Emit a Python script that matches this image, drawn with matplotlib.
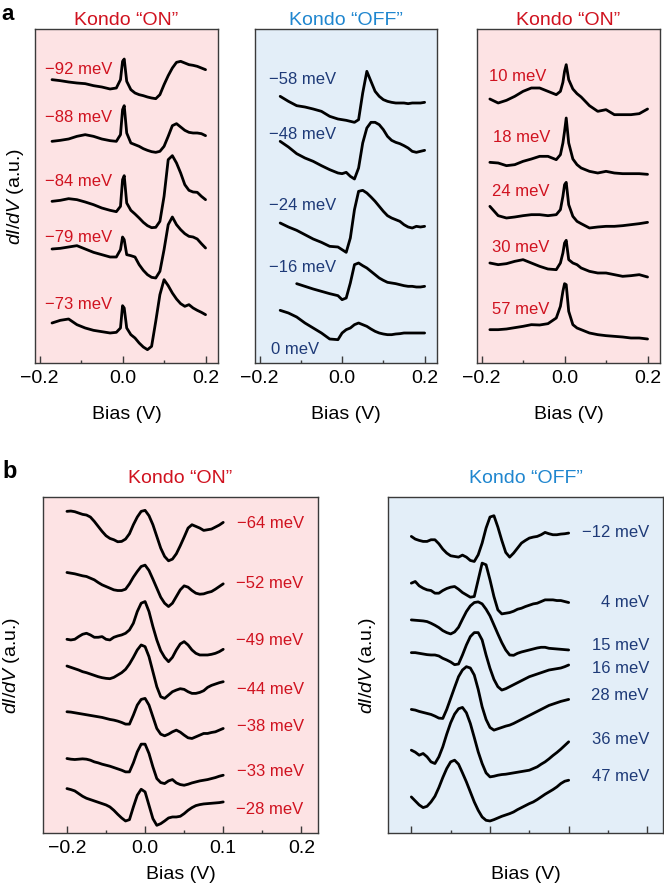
import numpy as np
import matplotlib
matplotlib.use('Agg')
import matplotlib.pyplot as plt

plt.rcParams['font.family'] = ['Liberation Sans', 'DejaVu Sans']
plt.rcParams['mathtext.fontset'] = 'custom'
plt.rcParams['mathtext.it'] = 'Liberation Sans:italic'
plt.rcParams['mathtext.rm'] = 'Liberation Sans'

RED = '#d0121f'
BLUE = '#1f86cf'
NAVY = '#1e3a78'
PINK_BG = '#fde3e4'
BLUE_BG = '#e3eef8'
FRAME = '#3a3a3a'

# ---------------- panel a, left: Kondo "ON" ----------------
bias_a1 = [-0.17, -0.15, -0.13, -0.11, -0.09, -0.07, -0.05, -0.03, -0.015, -0.005,
           0.0, 0.004, 0.01, 0.02, 0.03, 0.04, 0.05, 0.06, 0.07, 0.08, 0.09, 0.10,
           0.11, 0.12, 0.13, 0.14, 0.15, 0.16, 0.17, 0.18, 0.19, 0.20]
a1_m92 = [850, 847, 843, 840, 838, 832, 828, 822, 825, 850, 905, 912, 845, 820, 810, 805,
          802, 798, 795, 793, 805, 835, 862, 885, 902, 905, 900, 895, 893, 890, 885, 880]
a1_m88 = [665, 668, 672, 680, 685, 680, 672, 667, 665, 685, 760, 772, 690, 660, 655, 650,
          643, 638, 634, 632, 635, 650, 680, 712, 718, 708, 698, 692, 690, 690, 688, 682]
a1_m84 = [485, 488, 493, 490, 483, 475, 465, 458, 454, 470, 550, 562, 480, 458, 447, 435,
          422, 412, 406, 407, 425, 500, 610, 622, 600, 570, 535, 518, 513, 512, 500, 490]
a1_m79 = [342, 344, 348, 352, 342, 332, 325, 318, 318, 340, 378, 370, 325, 322, 318, 295,
          278, 265, 257, 255, 275, 340, 415, 438, 415, 400, 388, 380, 378, 372, 358, 345]
a1_m73 = [120, 128, 132, 115, 105, 98, 94, 90, 92, 105, 172, 165, 105, 85, 75, 60,
          48, 40, 50, 125, 205, 250, 232, 210, 192, 178, 170, 175, 165, 158, 152, 145]
a1_labels = ['\u221292 meV', '\u221288 meV', '\u221284 meV', '\u221279 meV', '\u221273 meV']
a1_label_x = [-0.188, -0.188, -0.188, -0.188, -0.188]
a1_label_y = [880, 735, 545, 378, 175]

# ---------------- panel a, middle: Kondo "OFF" ----------------
bias_a2 = [-0.15, -0.13, -0.11, -0.09, -0.07, -0.05, -0.03, -0.01, 0.0, 0.01, 0.02, 0.03,
           0.04, 0.05, 0.06, 0.07, 0.08, 0.09, 0.10, 0.11, 0.12, 0.13, 0.14, 0.15, 0.16,
           0.17, 0.18, 0.19, 0.20]
a2_m58 = [800, 785, 772, 768, 762, 755, 740, 732, 730, 728, 725, 722, 730, 810, 875,
          845, 815, 800, 790, 785, 782, 780, 780, 780, 778, 780, 780, 780, 782]
a2_m48 = [665, 648, 628, 615, 605, 592, 580, 570, 568, 572, 560, 552, 585, 660, 705,
          722, 722, 715, 700, 680, 668, 662, 658, 652, 645, 635, 632, 635, 638]
a2_m24 = [420, 408, 398, 385, 372, 362, 350, 348, 340, 332, 375, 460, 515, 518, 510,
          498, 485, 470, 455, 442, 435, 430, 425, 415, 408, 405, 410, 408, 410]
a2_m16 = [np.nan, np.nan, 238, 230, 222, 215, 208, 202, 190, 195, 240, 295, 300, 292, 285,
          275, 265, 255, 248, 242, 240, 238, 235, 232, 230, 230, 228, 228, 230]
a2_p0 = [158, 150, 138, 120, 105, 90, 72, 70, 90, 100, 105, 115, 120, 115, 110,
         102, 95, 90, 87, 85, 85, 87, 88, 90, 90, 90, 90, 90, 90]
a2_labels = ['\u221258 meV', '\u221248 meV', '\u221224 meV', '\u221216 meV', '0 meV']
a2_label_x = [-0.176, -0.176, -0.176, -0.176, -0.173]
a2_label_y = [850, 685, 472, 285, 40]

# ---------------- panel a, right: Kondo "ON" ----------------
bias_a3 = [-0.18, -0.16, -0.14, -0.12, -0.10, -0.08, -0.06, -0.04, -0.02, -0.01, -0.004,
           0.0, 0.004, 0.01, 0.02, 0.03, 0.04, 0.06, 0.08, 0.10, 0.12, 0.14, 0.16, 0.18, 0.20]
a3_p10 = [792, 780, 788, 800, 815, 825, 825, 815, 805, 815, 842, 875, 895, 850, 822,
          808, 798, 772, 755, 760, 745, 745, 745, 748, 762]
a3_p18 = [602, 600, 592, 595, 605, 612, 620, 620, 610, 625, 660, 695, 735, 660, 612,
          595, 585, 575, 570, 575, 570, 568, 568, 568, 566]
a3_p24 = [470, 442, 435, 438, 442, 445, 445, 442, 445, 460, 500, 535, 542, 475, 440,
          425, 418, 405, 408, 410, 410, 412, 415, 418, 422]
a3_p30 = [300, 295, 298, 305, 310, 300, 290, 282, 280, 300, 330, 360, 368, 310, 300,
          295, 285, 275, 270, 270, 265, 260, 262, 265, 258]
a3_p57 = [100, 100, 102, 106, 110, 115, 114, 118, 135, 170, 215, 238, 235, 155, 115,
          105, 100, 90, 85, 82, 80, 78, 75, 75, 72]
a3_labels = ['10 meV', '18 meV', '24 meV', '30 meV', '57 meV']
a3_label_x = [-0.181, -0.173, -0.176, -0.176, -0.176]
a3_label_y = [860, 675, 515, 348, 160]

# ---------------- panel b (shared bias grid) ----------------
bias_b = [-0.20, -0.19, -0.18, -0.17, -0.16, -0.15, -0.14, -0.13, -0.12, -0.11, -0.10,
          -0.09, -0.08, -0.07, -0.06, -0.05, -0.04, -0.03, -0.02, -0.01, 0.0, 0.005,
          0.01, 0.015, 0.02, 0.025, 0.03, 0.035, 0.04, 0.045, 0.05, 0.055, 0.06, 0.065,
          0.07, 0.075, 0.08, 0.085, 0.09, 0.095, 0.10]
b1_m64 = [963, 964, 962, 958, 954, 952, 946, 933, 918, 903, 890, 882, 878, 872, 873, 880,
          896, 923, 946, 963, 966, 950, 923, 888, 853, 828, 815, 820, 836, 860, 886, 913,
          923, 918, 913, 906, 908, 910, 916, 922, 930]
b1_m52 = [780, 778, 776, 773, 770, 768, 763, 758, 750, 743, 738, 733, 728, 726, 726, 730,
          746, 766, 783, 798, 802, 786, 760, 733, 706, 688, 678, 688, 708, 728, 740, 736,
          726, 718, 715, 716, 720, 723, 730, 738, 746]
b1_m49 = [580, 578, 580, 588, 595, 598, 593, 586, 586, 588, 580, 578, 586, 590, 593, 598,
          608, 628, 663, 688, 693, 663, 618, 578, 546, 526, 513, 526, 548, 566, 573, 563,
          548, 538, 533, 533, 533, 535, 538, 543, 550]
b1_m44 = [500, 496, 492, 488, 483, 480, 476, 472, 468, 465, 463, 462, 466, 473, 480, 490,
          506, 526, 548, 563, 558, 528, 483, 438, 408, 403, 413, 423, 428, 432, 430, 423,
          418, 418, 421, 426, 436, 442, 446, 450, 453]
b1_m38 = [363, 362, 360, 358, 356, 354, 352, 350, 348, 346, 343, 340, 338, 335, 331, 326,
          326, 353, 383, 400, 403, 383, 348, 313, 296, 291, 296, 303, 308, 302, 293, 285,
          283, 288, 293, 298, 298, 301, 303, 308, 313]
b1_m33 = [223, 221, 220, 221, 222, 221, 218, 213, 210, 206, 203, 200, 196, 192, 188, 183,
          183, 210, 243, 266, 266, 238, 198, 163, 151, 148, 156, 160, 150, 145, 143, 146,
          150, 153, 156, 158, 160, 163, 166, 170, 173]
b1_m28 = [133, 130, 126, 118, 110, 104, 100, 96, 92, 88, 84, 78, 68, 56, 45, 36,
          40, 78, 113, 131, 123, 83, 43, 23, 28, 36, 45, 48, 48, 50, 58, 68,
          76, 82, 85, 87, 88, 89, 90, 91, 93]
b1_labels = ['\u221264 meV', '\u221252 meV', '\u221249 meV', '\u221244 meV',
             '\u221238 meV', '\u221233 meV', '\u221228 meV']
b1_label_y = [928, 748, 576, 430, 318, 183, 70]

b2_m12 = [888, 880, 876, 873, 873, 878, 878, 866, 850, 838, 830, 828, 826, 832, 826, 816,
          813, 833, 868, 913, 946, 950, 916, 876, 840, 826, 838, 853, 868, 876, 883, 886,
          888, 893, 900, 896, 893, 893, 895, 896, 898]
b2_p4 = [748, 753, 740, 733, 728, 726, 718, 718, 726, 732, 736, 738, 730, 720, 713, 706,
         708, 758, 808, 803, 758, 708, 668, 656, 658, 660, 664, 670, 673, 678, 682, 686,
         688, 693, 698, 698, 698, 696, 696, 693, 690]
b2_p15 = [638, 637, 636, 635, 633, 628, 622, 615, 606, 600, 596, 602, 616, 640, 663, 680,
          690, 692, 686, 670, 650, 623, 596, 570, 548, 533, 532, 538, 542, 545, 548, 551,
          554, 556, 556, 553, 552, 551, 550, 549, 548]
b2_p16 = [540, 540, 538, 536, 534, 533, 533, 530, 523, 518, 512, 504, 506, 533, 563, 588,
          600, 600, 578, 533, 493, 460, 438, 428, 432, 438, 444, 450, 456, 462, 468, 472,
          476, 480, 484, 488, 490, 492, 494, 498, 503]
b2_p28 = [370, 368, 364, 361, 358, 355, 350, 344, 343, 370, 403, 436, 468, 488, 498, 494,
          473, 430, 378, 340, 316, 308, 312, 316, 320, 323, 328, 334, 340, 346, 352, 358,
          364, 370, 376, 382, 386, 390, 394, 397, 400]
b2_p36 = [248, 242, 233, 238, 228, 213, 208, 228, 258, 296, 330, 356, 372, 376, 360, 328,
          286, 243, 208, 180, 168, 170, 173, 175, 176, 178, 180, 182, 184, 186, 188, 193,
          198, 206, 213, 222, 232, 241, 251, 262, 273]
b2_p47 = [108, 96, 84, 76, 80, 93, 110, 136, 166, 193, 213, 218, 206, 180, 153, 123,
          93, 68, 48, 38, 36, 40, 45, 50, 54, 58, 63, 70, 76, 82, 88, 93,
          100, 108, 116, 123, 130, 138, 148, 155, 158]
b2_labels = ['\u221212 meV', '4 meV', '15 meV', '16 meV', '28 meV', '36 meV', '47 meV']
b2_label_y = [900, 690, 560, 493, 413, 280, 168]

W, H = 664, 890
fig = plt.figure(figsize=(W / 100, H / 100), dpi=100)


def add_axes_px(left, top, right, bottom):
    return fig.add_axes([left / W, 1 - bottom / H, (right - left) / W, (bottom - top) / H])


def style(ax, bg):
    ax.set_facecolor(bg)
    for s in ax.spines.values():
        s.set_color(FRAME)
        s.set_linewidth(1.0)
    ax.set_yticks([])
    ax.tick_params(axis='x', which='both', direction='in', top=False, labelsize=14,
                   pad=5, color=FRAME, width=1)
    ax.tick_params(axis='x', which='major', length=5)
    ax.tick_params(axis='x', which='minor', length=2.5)


# the panel-b bias axis is drawn with the positive side stretched x2 (as in the original)
def fwd(x):
    x = np.asarray(x, dtype=float)
    return np.where(x < 0, x, 2 * x)


def inv(y):
    y = np.asarray(y, dtype=float)
    return np.where(y < 0, y, y / 2)


line_kw = dict(color='black', lw=2.0, solid_joinstyle='round', solid_capstyle='round')

# ---- panel a ----
a_axes = [add_axes_px(35, 29, 218, 363), add_axes_px(255, 29, 437, 363),
          add_axes_px(477, 29, 660, 363)]
a_data = [
    (bias_a1, [a1_m92, a1_m88, a1_m84, a1_m79, a1_m73], a1_labels, a1_label_x, a1_label_y,
     PINK_BG, RED, 'Kondo \u201cON\u201d', RED),
    (bias_a2, [a2_m58, a2_m48, a2_m24, a2_m16, a2_p0], a2_labels, a2_label_x, a2_label_y,
     BLUE_BG, NAVY, 'Kondo \u201cOFF\u201d', BLUE),
    (bias_a3, [a3_p10, a3_p18, a3_p24, a3_p30, a3_p57], a3_labels, a3_label_x, a3_label_y,
     PINK_BG, RED, 'Kondo \u201cON\u201d', RED),
]
for ax, (bias, curves, labels, lx, ly, bg, lcol, title, tcol) in zip(a_axes, a_data):
    style(ax, bg)
    for c in curves:
        ax.plot(bias, c, **line_kw)
    for lab, x, y in zip(labels, lx, ly):
        ax.text(x, y, lab, color=lcol, fontsize=12, ha='left', va='center')
    ax.set_xlim(-0.211, 0.230)
    ax.set_ylim(0, 1002)
    ax.set_xticks([-0.2, 0.0, 0.2], labels=['\u22120.2', '0.0', '0.2'])
    ax.set_xticks([-0.1, 0.1], minor=True)
    ax.set_xlabel('Bias (V)', fontsize=14)
    ax.xaxis.set_label_coords(0.5, -0.128)
    ax.text(0.5, 1.012, title, transform=ax.transAxes, ha='center', va='baseline',
            fontsize=14, color=tcol)

a_axes[0].set_ylabel(r'$\mathit{dI/dV}$ (a.u.)', fontsize=14, va='center')
a_axes[0].yaxis.set_label_coords(-0.109, 0.5)

# ---- panel b ----
b_axes = [add_axes_px(43, 497, 318, 833), add_axes_px(388, 497, 663, 833)]
b_data = [
    ([b1_m64, b1_m52, b1_m49, b1_m44, b1_m38, b1_m33, b1_m28], b1_labels, b1_label_y,
     PINK_BG, RED, 'Kondo \u201cON\u201d', RED, 0.203, -0.116, -0.2613, 0.2213),
    ([b2_m12, b2_p4, b2_p15, b2_p16, b2_p28, b2_p36, b2_p47], b2_labels, b2_label_y,
     BLUE_BG, NAVY, 'Kondo \u201cOFF\u201d', BLUE, 0.202, -0.0745, -0.2593, 0.2199),
]
for i, (ax, (curves, labels, ly, bg, lcol, title, tcol, lx, ylx, x0, x1)) in enumerate(
        zip(b_axes, b_data)):
    ax.set_xscale('function', functions=(fwd, inv))
    style(ax, bg)
    for c in curves:
        ax.plot(bias_b, c, **line_kw)
    for lab, y in zip(labels, ly):
        ax.text(lx, y, lab, color=lcol, fontsize=12, ha='right', va='center')
    ax.set_xlim(x0, x1)
    ax.set_ylim(0, 1006)
    ax.set_xticks([-0.2, 0.0, 0.1, 0.2], labels=['\u22120.2', '0.0', '0.1', '0.2'])
    ax.set_xticks([-0.1, 0.05, 0.15], minor=True)
    if i == 1:
        ax.tick_params(axis='x', which='both', labelbottom=False)
    ax.set_xlabel('Bias (V)', fontsize=14)
    ax.xaxis.set_label_coords(0.5, -0.098)
    ax.set_ylabel(r'$\mathit{dI/dV}$ (a.u.)', fontsize=14, va='center')
    ax.yaxis.set_label_coords(ylx, 0.5)
    ax.text(0.5, 1.042, title, transform=ax.transAxes, ha='center', va='baseline',
            fontsize=14, color=tcol)

fig.text(1 / W, 1 - 20 / H, 'a', fontsize=16, fontweight='bold', va='baseline')
fig.text(2 / W, 1 - 478 / H, 'b', fontsize=17, fontweight='bold', va='baseline')

fig.savefig('out.png', dpi=100)
